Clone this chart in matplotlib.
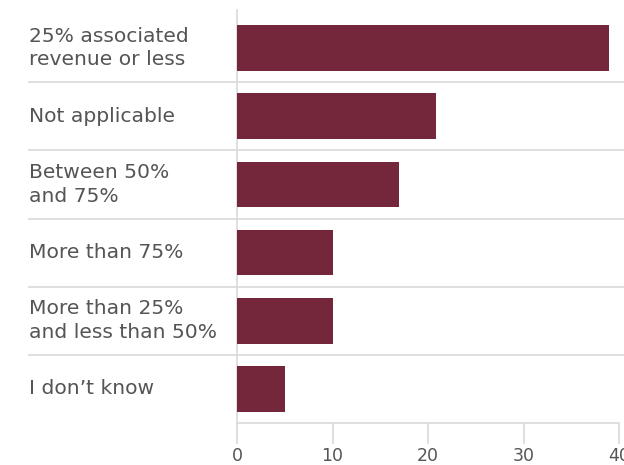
import matplotlib.pyplot as plt
import matplotlib.transforms as mtransforms

categories = [
    "25% associated\nrevenue or less",
    "Not applicable",
    "Between 50%\nand 75%",
    "More than 75%",
    "More than 25%\nand less than 50%",
    "I don\u2019t know",
]
values = [39, 20.8, 17, 10, 10, 5]
x_ticks = [0, 10, 20, 30, 40]

bar_color = "#74273a"
text_color = "#555555"
line_color = "#d9d9d9"

plt.rcParams['font.family'] = ['DejaVu Sans']

fig = plt.figure(figsize=(6.24, 4.65), dpi=100)
ax = fig.add_axes([237 / 624, 42 / 465, 382 / 624, 409 / 465])

pos = list(range(len(categories)))
ax.barh(pos, values, height=0.67, color=bar_color, zorder=2)
ax.set_ylim(len(categories) - 0.5, -0.5)
ax.set_xlim(0, 40)

for s in ['top', 'right', 'left']:
    ax.spines[s].set_visible(False)
ax.spines['bottom'].set_color(line_color)
ax.spines['bottom'].set_linewidth(1.2)

ax.set_yticks([])
ax.set_xticks(x_ticks)
ax.tick_params(axis='x', length=15, width=1.2, color=line_color,
               labelcolor=text_color, labelsize=12.5, pad=2)

# category labels and row separators reaching out to the left margin
trans = mtransforms.blended_transform_factory(fig.transFigure, ax.transData)
for i, label in enumerate(categories):
    ax.text(29 / 624, i, label, transform=trans, ha='left', va='center',
            fontsize=14.6, color=text_color, linespacing=1.32)
for i in range(len(categories) - 1):
    ax.plot([29 / 624, 1.0], [i + 0.5, i + 0.5], transform=trans,
            color=line_color, lw=1.2, clip_on=False, zorder=1)

# vertical baseline at zero, running a little above the plot
ax.plot([0, 0], [-0.56, len(categories) - 0.5], color=line_color, lw=1.2,
        clip_on=False, zorder=1)

fig.savefig("out.png", dpi=100)
